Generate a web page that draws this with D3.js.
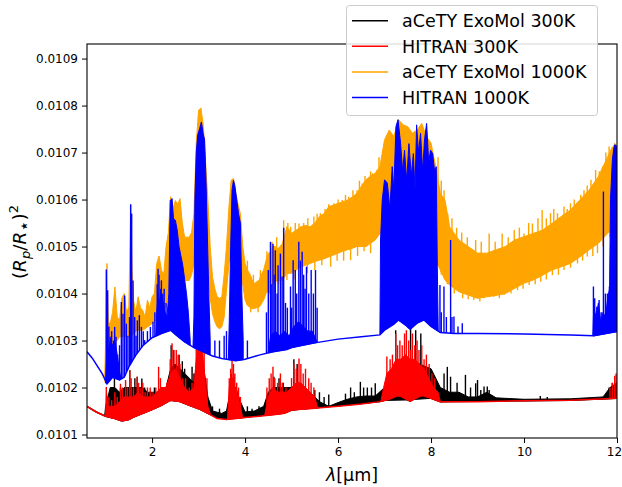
<!DOCTYPE html>
<html>
<head>
<meta charset="utf-8">
<script src="https://cdn.jsdelivr.net/npm/d3@7"></script>
<style>
  body { margin: 0; background: #fff; }
  svg { font-family: "DejaVu Sans", sans-serif; }
</style>
</head>
<body>
<svg id="chart" width="622" height="487"></svg>
<script>
// ---- data (wavelength in um, transit depth) ----
const xTicks = [2, 4, 6, 8, 10, 12];
const yTicks = [0.0101, 0.0102, 0.0103, 0.0104, 0.0105, 0.0106, 0.0107, 0.0108, 0.0109];
const legendNames = ["aCeTY ExoMol 300K", "HITRAN 300K", "aCeTY ExoMol 1000K", "HITRAN 1000K"];

// HITRAN 1000K : continuum, dense bands [lambda, top], isolated lines [lambda, top]
const blueCont = [[0.6, 0.010276], [0.71, 0.010263], [0.82, 0.010246], [0.93, 0.010229], [1.03, 0.010208],
  [1.15, 0.010222], [1.3, 0.010216], [1.4, 0.010222], [1.5, 0.010244], [1.65, 0.010269], [1.8, 0.010289],
  [2.0, 0.010306], [2.2, 0.010315], [2.4, 0.010322], [2.5, 0.010313], [2.7, 0.010297], [2.9, 0.010285],
  [3.1, 0.010276], [3.3, 0.010267], [3.5, 0.010262], [3.8, 0.010257], [4.0, 0.01026], [4.3, 0.010269],
  [4.6, 0.010276], [4.9, 0.010281], [5.0, 0.010285], [5.5, 0.010295], [6.0, 0.010303], [6.5, 0.010308],
  [6.9, 0.010312], [7.0, 0.010322], [7.2, 0.010335], [7.3, 0.010344], [7.45, 0.010333], [7.55, 0.010324],
  [7.7, 0.010337], [7.85, 0.010344], [8.0, 0.01033], [8.2, 0.010317], [8.5, 0.010315], [9.0, 0.010315],
  [10.0, 0.010314], [11.0, 0.010312], [11.5, 0.01031], [12.0, 0.010319]];
const blueBands = [
  [[1.0, 0.01021], [1.03, 0.01029], [1.07, 0.01028], [1.1, 0.0103], [1.15, 0.01029], [1.2, 0.0103],
   [1.25, 0.01027], [1.3, 0.010235], [1.33, 0.010218]],
  [[2.08, 0.010312], [2.1, 0.01036], [2.13, 0.0104], [2.16, 0.01038], [2.2, 0.0104], [2.24, 0.01038],
   [2.28, 0.01036], [2.32, 0.01035], [2.36, 0.0104], [2.39, 0.010598], [2.43, 0.010602], [2.46, 0.01056],
   [2.5, 0.010556], [2.54, 0.010535], [2.58, 0.0105], [2.62, 0.01048], [2.66, 0.01046], [2.7, 0.01043],
   [2.74, 0.0104], [2.78, 0.01036], [2.82, 0.0103]],
  [[2.88, 0.010287], [2.9, 0.01035], [2.92, 0.0106], [2.95, 0.0107], [2.98, 0.010737], [3.02, 0.01075],
   [3.06, 0.010765], [3.1, 0.01074], [3.13, 0.010727], [3.16, 0.01064], [3.19, 0.01052], [3.22, 0.0104],
   [3.25, 0.0103]],
  [[3.64, 0.01026], [3.66, 0.01034], [3.69, 0.0105], [3.72, 0.01062], [3.75, 0.010641], [3.78, 0.01063],
   [3.82, 0.0106], [3.86, 0.01057], [3.9, 0.01055], [3.93, 0.0104], [3.96, 0.0103]],
  [[4.5, 0.010277], [4.55, 0.01031], [4.65, 0.01032], [4.75, 0.01031], [4.85, 0.01032], [4.95, 0.01031],
   [5.05, 0.01033], [5.15, 0.01034], [5.25, 0.01033], [5.35, 0.01032], [5.45, 0.01032], [5.55, 0.010296]],
  [[6.9, 0.010312], [6.914, 0.010514], [6.95, 0.010599], [7.0, 0.010642], [7.06, 0.010635], [7.115, 0.01058],
   [7.165, 0.01067], [7.2, 0.01062], [7.245, 0.010755], [7.29, 0.01077], [7.345, 0.01072], [7.39, 0.01066],
   [7.43, 0.010705], [7.475, 0.01064], [7.525, 0.010719], [7.575, 0.01065], [7.62, 0.010698], [7.655, 0.01062],
   [7.69, 0.010759], [7.73, 0.0107], [7.775, 0.010741], [7.82, 0.01066], [7.86, 0.010727], [7.905, 0.010762],
   [7.95, 0.01068], [7.99, 0.010705], [8.035, 0.010698], [8.077, 0.01066], [8.113, 0.01067], [8.135, 0.010457],
   [8.155, 0.01032]],
  [[11.48, 0.01031], [11.5, 0.01037], [11.55, 0.01035], [11.6, 0.01038], [11.65, 0.01034], [11.7, 0.01036],
   [11.75, 0.01035], [11.8, 0.01039], [11.84, 0.01041], [11.86, 0.0106], [11.9, 0.010684], [11.94, 0.010716],
   [11.98, 0.010716], [12.0, 0.0107]]
];
const blueSpikes = [[1.015, 0.010451], [1.044, 0.010407], [1.07, 0.01033], [1.1, 0.010308], [1.13, 0.01032],
  [1.17, 0.0103], [1.195, 0.010329], [1.224, 0.010308], [1.26, 0.01027], [1.3, 0.01029], [1.339, 0.010382],
  [1.374, 0.010357], [1.41, 0.010396], [1.446, 0.010336], [1.48, 0.01031], [1.515, 0.01035], [1.539, 0.01059],
  [1.561, 0.01057], [1.59, 0.010428], [1.626, 0.01035], [1.655, 0.01031], [1.683, 0.010343], [1.726, 0.010354],
  [1.77, 0.010329], [1.81, 0.01032], [1.84, 0.010301], [1.9, 0.01032], [1.963, 0.010329], [2.02, 0.01034],
  [2.06, 0.01036], [2.11, 0.01042], [2.128, 0.010453], [2.15, 0.01044], [2.185, 0.01041], [2.2, 0.010428],
  [2.23, 0.0104], [2.26, 0.01041], [2.3, 0.01038], [3.35, 0.0103], [3.45, 0.0103], [3.55, 0.01031],
  [3.6, 0.01032], [4.05, 0.0103], [4.46, 0.01036], [4.5, 0.01045], [4.546, 0.01051], [4.575, 0.01042],
  [4.6, 0.010506], [4.625, 0.01044], [4.65, 0.010492], [4.69, 0.0104], [4.71, 0.01046], [4.76, 0.010485],
  [4.797, 0.010436], [4.83, 0.01054], [4.87, 0.01038], [4.91, 0.01037], [4.977, 0.010415], [5.0, 0.01037],
  [5.034, 0.010471], [5.08, 0.01045], [5.11, 0.0104], [5.156, 0.01051], [5.19, 0.01047], [5.228, 0.010489],
  [5.26, 0.01044], [5.29, 0.01041], [5.321, 0.010457], [5.37, 0.0104], [5.422, 0.01045], [5.47, 0.0104],
  [5.515, 0.01045], [5.55, 0.01037], [8.192, 0.010418], [8.22, 0.01036], [8.278, 0.010415], [8.33, 0.01035],
  [8.421, 0.010514], [8.45, 0.01035], [8.493, 0.010351], [8.58, 0.01033], [8.672, 0.010337],
  [11.493, 0.010415], [11.52, 0.01039], [11.565, 0.010372], [11.615, 0.010386], [11.66, 0.01036],
  [11.708, 0.010617], [11.75, 0.0104], [11.794, 0.0104], [11.837, 0.010415]];

// aCeTY ExoMol 1000K : [lambda, lower envelope, upper envelope]
const orangeEnv = [[0.98, 0.010215, 0.010215], [1.0, 0.010208, 0.0103], [1.03, 0.01023, 0.010464],
  [1.06, 0.01026, 0.01034], [1.1, 0.010286, 0.010336], [1.15, 0.01029, 0.01036], [1.2, 0.0103, 0.010414],
  [1.25, 0.0103, 0.01035], [1.3, 0.010308, 0.010343], [1.35, 0.010308, 0.01039], [1.4, 0.010308, 0.0104],
  [1.45, 0.010308, 0.01036], [1.5, 0.010308, 0.010371], [1.54, 0.01031, 0.010588], [1.57, 0.01031, 0.01045],
  [1.6, 0.010315, 0.010386], [1.65, 0.01032, 0.01036], [1.7, 0.010322, 0.010393], [1.75, 0.010322, 0.01037],
  [1.8, 0.010322, 0.010364], [1.85, 0.010325, 0.01035], [1.9, 0.010329, 0.010386], [1.95, 0.010332, 0.01037],
  [2.0, 0.010336, 0.010393], [2.05, 0.01034, 0.0104], [2.1, 0.010343, 0.010464], [2.15, 0.01035, 0.01048],
  [2.2, 0.010357, 0.01045], [2.25, 0.010365, 0.01044], [2.3, 0.010371, 0.010499], [2.35, 0.0104, 0.01053],
  [2.4, 0.010428, 0.010606], [2.45, 0.01045, 0.01058], [2.5, 0.010464, 0.010598], [2.55, 0.01045, 0.01059],
  [2.6, 0.010442, 0.010602], [2.65, 0.010435, 0.01055], [2.7, 0.010428, 0.01052], [2.75, 0.010428, 0.01052],
  [2.8, 0.010428, 0.01052], [2.85, 0.01044, 0.01053], [2.9, 0.010464, 0.01057], [2.95, 0.01055, 0.01072],
  [3.0, 0.0106, 0.01079], [3.05, 0.01062, 0.010795], [3.1, 0.0106, 0.010759], [3.15, 0.01052, 0.01068],
  [3.2, 0.01045, 0.010599], [3.25, 0.01039, 0.0105], [3.3, 0.010357, 0.010435], [3.35, 0.01034, 0.01041],
  [3.4, 0.010329, 0.010393], [3.45, 0.010325, 0.01039], [3.5, 0.010329, 0.010393], [3.55, 0.01035, 0.01044],
  [3.6, 0.010407, 0.0105], [3.65, 0.01046, 0.01058], [3.7, 0.0105, 0.010641], [3.75, 0.01052, 0.010645],
  [3.8, 0.010535, 0.010613], [3.85, 0.0105, 0.01059], [3.9, 0.010464, 0.01057], [3.95, 0.01042, 0.0105],
  [4.0, 0.010386, 0.010464], [4.05, 0.010375, 0.01045], [4.1, 0.010371, 0.010442], [4.15, 0.010368, 0.01043],
  [4.2, 0.010368, 0.010421], [4.25, 0.01037, 0.010425], [4.3, 0.010371, 0.010428], [4.35, 0.010378, 0.01044],
  [4.4, 0.010386, 0.01045], [4.45, 0.0104, 0.01047], [4.5, 0.010407, 0.010485], [4.55, 0.010414, 0.01049],
  [4.6, 0.010421, 0.0105], [4.65, 0.010425, 0.0105], [4.7, 0.010428, 0.010495], [4.75, 0.010428, 0.0105],
  [4.8, 0.010428, 0.010506], [4.9, 0.010443, 0.010542], [5.0, 0.010443, 0.010528], [5.1, 0.01045, 0.010535],
  [5.2, 0.010457, 0.010542], [5.3, 0.01046, 0.010545], [5.4, 0.010464, 0.010542], [5.5, 0.010468, 0.01055],
  [5.6, 0.010471, 0.010564], [5.7, 0.010474, 0.01057], [5.8, 0.010478, 0.010585], [5.9, 0.010482, 0.010588],
  [6.0, 0.010486, 0.010592], [6.1, 0.01049, 0.010595], [6.2, 0.010493, 0.010599], [6.3, 0.010496, 0.010605],
  [6.4, 0.0105, 0.010613], [6.5, 0.0105, 0.010628], [6.6, 0.0105, 0.010642], [6.7, 0.010507, 0.01065],
  [6.8, 0.010514, 0.010656], [6.9, 0.010528, 0.01067], [7.0, 0.01054, 0.010727], [7.1, 0.01056, 0.010748],
  [7.2, 0.01056, 0.010734], [7.3, 0.01056, 0.01077], [7.4, 0.01056, 0.010759], [7.5, 0.01056, 0.010755],
  [7.6, 0.01056, 0.010741], [7.7, 0.01056, 0.010748], [7.8, 0.01055, 0.010762], [7.9, 0.01054, 0.010734],
  [8.0, 0.0105, 0.01072], [8.1, 0.010471, 0.01067], [8.2, 0.01045, 0.010613], [8.3, 0.010429, 0.010599],
  [8.4, 0.010418, 0.010542], [8.5, 0.010411, 0.010528], [8.6, 0.010404, 0.010514], [8.7, 0.0104, 0.010507],
  [8.8, 0.010397, 0.0105], [8.9, 0.010393, 0.010493], [9.0, 0.01039, 0.010486], [9.2, 0.010393, 0.010486],
  [9.4, 0.010396, 0.010493], [9.6, 0.0104, 0.0105], [9.8, 0.010411, 0.010514], [10.0, 0.010422, 0.010521],
  [10.2, 0.010429, 0.010528], [10.4, 0.010439, 0.010535], [10.6, 0.01045, 0.010549], [10.8, 0.010457, 0.010564],
  [11.0, 0.010464, 0.010578], [11.2, 0.010478, 0.010599], [11.4, 0.010493, 0.01062], [11.6, 0.010507, 0.010649],
  [11.8, 0.010528, 0.010691], [11.9, 0.01054, 0.010712], [12.0, 0.010528, 0.010705]];
// thin lines sticking out above the upper envelope
const orangeSpikes = [[4.05, 0.01047], [4.18, 0.01044], [4.33, 0.01045], [4.47, 0.01049], [4.58, 0.01051],
  [4.68, 0.01052], [4.83, 0.010556], [4.92, 0.01055], [4.98, 0.010542], [5.08, 0.01055], [5.16, 0.010549],
  [5.26, 0.01055], [5.35, 0.01056], [5.48, 0.010564], [5.55, 0.01057], [5.62, 0.010571], [5.72, 0.01058],
  [5.8, 0.01059], [5.91, 0.010592], [6.0, 0.0106], [6.09, 0.010599], [6.16, 0.01061], [6.23, 0.010606],
  [6.32, 0.01062], [6.41, 0.01062], [6.46, 0.01064], [6.52, 0.010634], [6.58, 0.01065], [6.63, 0.010642],
  [6.7, 0.01066], [6.74, 0.010656], [6.84, 0.010663], [6.88, 0.01069], [8.15, 0.01069], [8.22, 0.01064],
  [8.28, 0.01062], [8.36, 0.01057], [8.45, 0.01056], [8.55, 0.01054], [8.66, 0.01053], [8.78, 0.01052],
  [8.96, 0.010514], [9.08, 0.01051], [9.25, 0.010528], [9.38, 0.01051], [9.53, 0.010528], [9.66, 0.01052],
  [9.79, 0.010535], [9.9, 0.01054], [10.0, 0.010528], [10.1, 0.01055], [10.18, 0.010549], [10.3, 0.01056],
  [10.39, 0.010578], [10.48, 0.01056], [10.57, 0.010571], [10.64, 0.01058], [10.72, 0.010571],
  [10.86, 0.010585], [10.93, 0.01058], [11.0, 0.010592], [11.08, 0.0106], [11.15, 0.010585], [11.22, 0.01061],
  [11.29, 0.01062], [11.36, 0.01063], [11.44, 0.010642], [11.54, 0.010663], [11.62, 0.01066],
  [11.69, 0.01067], [11.76, 0.0107], [11.83, 0.010713], [11.95, 0.01072]];
// thin lines hanging below the lower envelope
const orangeDips = [[4.12, 0.01036], [4.28, 0.01036], [4.52, 0.0104], [4.72, 0.01042], [4.9, 0.010429],
  [5.05, 0.01043], [5.2, 0.01044], [5.34, 0.010443], [5.5, 0.01045], [5.65, 0.01046], [5.84, 0.010457],
  [5.98, 0.01047], [6.12, 0.01047], [6.27, 0.010471], [6.42, 0.01048], [6.56, 0.01049], [6.7, 0.010486],
  [8.22, 0.01044], [8.35, 0.01042], [8.5, 0.0104], [8.68, 0.01039], [8.8, 0.010388], [8.92, 0.010386],
  [9.05, 0.010383], [9.14, 0.01039], [9.35, 0.010393], [9.47, 0.01039], [9.57, 0.010397], [9.72, 0.0104],
  [9.86, 0.010407], [9.98, 0.01041], [10.11, 0.010418], [10.24, 0.01042], [10.36, 0.010425],
  [10.48, 0.01043], [10.61, 0.010439], [10.74, 0.01044], [10.86, 0.01045], [11.0, 0.010455],
  [11.15, 0.010464], [11.26, 0.01047], [11.36, 0.010479], [11.48, 0.01048], [11.58, 0.010486],
  [11.7, 0.0105], [11.85, 0.01052]];

// HITRAN 300K
const redCont = [[0.6, 0.01016], [0.8, 0.010148], [1.0, 0.010139], [1.2, 0.010134], [1.35, 0.010129],
  [1.5, 0.010132], [1.6, 0.010137], [1.8, 0.010145], [2.0, 0.010153], [2.2, 0.010162], [2.4, 0.010173],
  [2.6, 0.01017], [2.8, 0.010162], [3.0, 0.010155], [3.2, 0.010145], [3.4, 0.010134], [3.6, 0.010132],
  [3.8, 0.010134], [4.0, 0.010136], [4.3, 0.010139], [4.6, 0.010142], [4.85, 0.010145], [5.0, 0.010152],
  [5.5, 0.010156], [6.0, 0.01016], [6.5, 0.010165], [6.9, 0.01017], [7.1, 0.010175], [7.3, 0.010184],
  [7.55, 0.010171], [7.8, 0.010184], [8.0, 0.010177], [8.2, 0.01017], [9.0, 0.01017], [10.0, 0.010172],
  [11.0, 0.010173], [12.0, 0.010177]];
const redBands = [
  [[1.0, 0.010139], [1.02, 0.01019], [1.05, 0.01016], [1.1, 0.01016], [1.2, 0.01016], [1.3, 0.01017],
   [1.4, 0.01018], [1.5, 0.01018], [1.6, 0.01018], [1.7, 0.01019], [1.8, 0.01018], [1.9, 0.01018],
   [2.0, 0.01018], [2.1, 0.01019], [2.2, 0.0102], [2.3, 0.0102], [2.4, 0.01023], [2.5, 0.01024],
   [2.6, 0.01022], [2.7, 0.0102], [2.8, 0.01019], [2.9, 0.0102], [2.95, 0.01026], [3.0, 0.0103],
   [3.05, 0.0103], [3.1, 0.01026], [3.15, 0.0102], [3.2, 0.01016], [3.25, 0.010145]],
  [[3.62, 0.010132], [3.66, 0.0102], [3.7, 0.01022], [3.74, 0.01022], [3.78, 0.0102], [3.84, 0.01018],
   [3.9, 0.01016], [3.95, 0.010135]],
  [[4.42, 0.01014], [4.5, 0.01018], [4.6, 0.0102], [4.7, 0.01019], [4.8, 0.01019], [4.9, 0.01019],
   [5.0, 0.0102], [5.1, 0.01021], [5.2, 0.01021], [5.3, 0.0102], [5.4, 0.01019], [5.5, 0.01018],
   [5.56, 0.010156]],
  [[6.92, 0.01017], [6.98, 0.0102], [7.05, 0.01023], [7.15, 0.01024], [7.25, 0.01026], [7.35, 0.01026],
   [7.45, 0.01027], [7.55, 0.01026], [7.65, 0.01026], [7.75, 0.01025], [7.85, 0.01024], [7.95, 0.01022],
   [8.05, 0.0102], [8.15, 0.01019], [8.2, 0.01017]]
];
const redSpikes = [[1.015, 0.010201], [1.07, 0.01018], [1.13, 0.010173], [1.2, 0.01019], [1.25, 0.01018],
  [1.32, 0.010208], [1.36, 0.0102], [1.43, 0.010216], [1.47, 0.0102], [1.52, 0.010237], [1.55, 0.01022],
  [1.6, 0.0102], [1.68, 0.010223], [1.71, 0.01021], [1.76, 0.0102], [1.8, 0.01021], [1.85, 0.01019],
  [1.9, 0.0102], [1.96, 0.0102], [2.02, 0.01019], [2.08, 0.0102], [2.14, 0.010244], [2.18, 0.01022],
  [2.27, 0.0102], [2.32, 0.01021], [2.39, 0.01026], [2.43, 0.010294], [2.47, 0.01028], [2.52, 0.01028],
  [2.56, 0.01027], [2.6, 0.01025], [2.66, 0.01022], [2.72, 0.01022], [2.8, 0.0102], [2.86, 0.01021],
  [2.95, 0.0103], [3.0, 0.01032], [3.04, 0.010336], [3.08, 0.01031], [3.12, 0.01028], [3.18, 0.01022],
  [3.66, 0.01022], [3.69, 0.01024], [3.72, 0.010261], [3.75, 0.01025], [3.78, 0.01023], [3.82, 0.01021],
  [3.86, 0.0102], [3.9, 0.01018], [4.47, 0.0102], [4.52, 0.01022], [4.56, 0.01023], [4.6, 0.010244],
  [4.64, 0.01022], [4.7, 0.01021], [4.76, 0.01023], [4.8, 0.01021], [4.88, 0.0102], [5.0, 0.01022],
  [5.05, 0.010251], [5.1, 0.01024], [5.16, 0.010262], [5.2, 0.01025], [5.25, 0.01023], [5.3, 0.01024],
  [5.37, 0.01022], [5.42, 0.01021], [5.48, 0.0102], [7.05, 0.010266], [7.12, 0.01026], [7.17, 0.01027],
  [7.24, 0.010315], [7.28, 0.01029], [7.33, 0.0103], [7.38, 0.01029], [7.43, 0.010315], [7.47, 0.010322],
  [7.52, 0.0103], [7.56, 0.01028], [7.6, 0.010315], [7.65, 0.01029], [7.7, 0.0103], [7.74, 0.01028],
  [7.8, 0.01029], [7.85, 0.01026], [7.9, 0.01027], [7.96, 0.01025], [8.02, 0.01023], [8.08, 0.01022],
  [11.85, 0.0102], [11.9, 0.01021], [11.95, 0.010225], [11.98, 0.01023]];

// aCeTY ExoMol 300K
const blackCont = [[0.6, 0.01016], [0.8, 0.010148], [1.0, 0.010139], [1.2, 0.010134], [1.35, 0.010129],
  [1.5, 0.010132], [1.6, 0.010137], [1.8, 0.010145], [2.0, 0.010153], [2.2, 0.010162], [2.4, 0.010173],
  [2.6, 0.01017], [2.8, 0.010162], [3.0, 0.010155], [3.2, 0.010145], [3.4, 0.010136], [3.6, 0.010134],
  [3.8, 0.010135], [4.0, 0.010137], [4.3, 0.01014], [4.6, 0.010143], [4.85, 0.010146], [5.0, 0.010152],
  [5.5, 0.010157], [6.0, 0.010161], [6.5, 0.010166], [6.9, 0.01017], [7.1, 0.010175], [7.3, 0.010184],
  [7.55, 0.010171], [7.8, 0.010184], [8.0, 0.010177], [8.2, 0.01017], [9.0, 0.010171], [10.0, 0.010172],
  [11.0, 0.010173], [12.0, 0.010177]];
const blackBand = [[0.98, 0.01014], [1.0, 0.01016], [1.1, 0.0102], [1.2, 0.0102], [1.3, 0.01019], [1.4, 0.0102],
  [1.5, 0.0102], [1.6, 0.0102], [1.7, 0.0102], [1.8, 0.0102], [1.9, 0.01019], [2.0, 0.01019], [2.1, 0.01019],
  [2.2, 0.0102], [2.3, 0.0102], [2.4, 0.01024], [2.5, 0.01025], [2.6, 0.01024], [2.7, 0.01023], [2.8, 0.01022],
  [2.9, 0.01021], [3.0, 0.01028], [3.1, 0.01025], [3.2, 0.01018], [3.3, 0.01015], [3.5, 0.010145],
  [3.6, 0.01015], [3.7, 0.0102], [3.8, 0.0102], [3.9, 0.01017], [4.0, 0.010148], [4.2, 0.01015],
  [4.4, 0.01016], [4.5, 0.01019], [4.6, 0.0102], [4.8, 0.0102], [5.0, 0.0102], [5.2, 0.0102], [5.4, 0.01019],
  [5.6, 0.01017], [5.8, 0.01016], [6.0, 0.010168], [6.2, 0.010175], [6.4, 0.01018], [6.6, 0.010182],
  [6.8, 0.010182], [7.0, 0.0102], [7.5, 0.01026], [8.0, 0.01024], [8.2, 0.0102], [8.4, 0.01019],
  [8.6, 0.01019], [8.8, 0.01018], [9.0, 0.01018], [9.2, 0.01019], [9.4, 0.010178], [10.0, 0.010175],
  [11.0, 0.010176], [11.7, 0.01018], [11.85, 0.0102], [12.0, 0.01021]];
const blackSpikes = [[1.19, 0.010223], [1.32, 0.0102], [1.52, 0.010237], [1.63, 0.01022], [1.68, 0.010223],
  [1.78, 0.010219], [1.84, 0.0102], [2.05, 0.0102], [2.41, 0.01029], [2.46, 0.01028], [2.58, 0.01027],
  [2.65, 0.010256], [2.7, 0.01024], [2.86, 0.010244], [2.9, 0.01023], [3.3, 0.01016], [3.45, 0.010155],
  [3.7, 0.01023], [3.76, 0.010223], [4.05, 0.01016], [4.15, 0.010155], [4.3, 0.01016], [4.62, 0.010223],
  [4.73, 0.01022], [4.82, 0.01021], [5.05, 0.01026], [5.12, 0.01025], [5.5, 0.010195], [5.6, 0.01019],
  [5.7, 0.01018], [5.8, 0.010185], [6.16, 0.010187], [6.27, 0.0102], [6.35, 0.01019], [6.48, 0.010212],
  [6.55, 0.0102], [6.63, 0.0102], [6.72, 0.0102], [6.8, 0.010209], [7.24, 0.010322], [7.56, 0.010329],
  [7.67, 0.010322], [7.78, 0.010315], [8.28, 0.01023], [8.35, 0.010244], [8.42, 0.010223], [8.56, 0.01021],
  [8.74, 0.010227], [8.85, 0.0102], [8.96, 0.010209], [9.0, 0.010216], [9.07, 0.010195], [9.14, 0.010202],
  [9.21, 0.010202], [9.25, 0.010195], [10.35, 0.010182], [10.5, 0.01018], [11.83, 0.0102], [11.9, 0.01021]];

// ---- layout ----
const W = 622, H = 487;
const margin = { top: 44, right: 5, bottom: 49, left: 87 };
const svg = d3.select("#chart");

const x = d3.scaleLinear().domain([0.6, 12]).range([margin.left, W - margin.right]);
const y = d3.scaleLinear().domain([0.0100926, 0.010931]).range([H - margin.bottom, margin.top]);

svg.append("defs").append("clipPath").attr("id", "plot-clip")
  .append("rect")
  .attr("x", margin.left).attr("y", margin.top)
  .attr("width", W - margin.left - margin.right)
  .attr("height", H - margin.top - margin.bottom);

const plot = svg.append("g").attr("clip-path", "url(#plot-clip)");

const line = d3.line().x(d => x(d[0])).y(d => y(d[1]));

// polylinear scale through the given points, used as the foot of bands / lines
function footOf(pts, k) {
  return d3.scaleLinear().domain(pts.map(d => d[0])).range(pts.map(d => d[k])).clamp(true);
}

function strokes(g, data, foot, color) {
  g.selectAll(null)
    .data(data)
    .join("line")
    .attr("x1", d => x(d[0])).attr("x2", d => x(d[0]))
    .attr("y1", d => y(foot(d[0]))).attr("y2", d => y(d[1]))
    .attr("stroke", color)
    .attr("stroke-width", 1.4);
}

function drawSeries(color, cont, bands, spikes) {
  const g = plot.append("g");
  const base = footOf(cont, 1);
  const area = d3.area()
    .x(d => x(d[0]))
    .y0(d => y(base(d[0])))
    .y1(d => y(d[1]));

  bands.forEach(seg => {
    g.append("path")
      .attr("d", area(seg))
      .attr("fill", color)
      .attr("stroke", color)
      .attr("stroke-width", 1)
      .attr("stroke-linejoin", "round");
  });

  strokes(g, spikes, base, color);

  g.append("path")
    .attr("d", line(cont))
    .attr("fill", "none")
    .attr("stroke", color)
    .attr("stroke-width", 1.5);
}

// drawing order as in the figure
drawSeries("#000000", blackCont, [blackBand], blackSpikes);
drawSeries("#ff0000", redCont, redBands, redSpikes);

// orange: its own lower / upper envelope
const og = plot.append("g");
og.append("path")
  .attr("d", d3.area().x(d => x(d[0])).y0(d => y(d[1])).y1(d => y(d[2]))(orangeEnv))
  .attr("fill", "#ffa500")
  .attr("stroke", "#ffa500")
  .attr("stroke-width", 1)
  .attr("stroke-linejoin", "round");
strokes(og, orangeSpikes, footOf(orangeEnv, 1), "#ffa500");
strokes(og, orangeDips, footOf(orangeEnv, 2), "#ffa500");

drawSeries("#0000ff", blueCont, blueBands, blueSpikes);

// ---- axes ----
const xAxis = svg.append("g")
  .attr("transform", `translate(0,${H - margin.bottom})`)
  .call(d3.axisBottom(x).tickValues(xTicks).tickSize(5).tickSizeOuter(0).tickPadding(4));
const yAxis = svg.append("g")
  .attr("transform", `translate(${margin.left},0)`)
  .call(d3.axisLeft(y).tickValues(yTicks).tickFormat(d3.format(".4f")).tickSize(5).tickSizeOuter(0).tickPadding(4));

[xAxis, yAxis].forEach(a => {
  a.select(".domain").remove();
  a.selectAll("text").attr("font-size", 12).attr("fill", "#000").attr("font-family", "DejaVu Sans");
  a.selectAll("line").attr("stroke", "#000");
});
// last x label sits right at the figure edge; nudge it in so it stays whole
xAxis.selectAll(".tick text").filter(d => d === 12).attr("dx", -3);

// frame
svg.append("rect")
  .attr("x", margin.left).attr("y", margin.top)
  .attr("width", W - margin.left - margin.right)
  .attr("height", H - margin.top - margin.bottom)
  .attr("fill", "none")
  .attr("stroke", "#000")
  .attr("stroke-width", 1.1);

// axis labels
const xl = svg.append("text")
  .attr("x", (margin.left + W - margin.right) / 2)
  .attr("y", 481)
  .attr("text-anchor", "middle")
  .attr("font-size", 17.5);
xl.append("tspan").attr("font-style", "italic").text("λ");
xl.append("tspan").text("[μm]");

const yl = svg.append("text")
  .attr("transform", "translate(26,242) rotate(-90)")
  .attr("text-anchor", "middle")
  .attr("font-size", 18.5);
yl.append("tspan").text("(");
yl.append("tspan").attr("font-style", "italic").text("R");
yl.append("tspan").attr("font-style", "italic").attr("font-size", 13).attr("dy", 4).text("p");
yl.append("tspan").attr("dy", -4).text("/");
yl.append("tspan").attr("font-style", "italic").text("R");
yl.append("tspan").attr("font-size", 18).attr("dy", 4).text("⋆");
yl.append("tspan").attr("dy", -4).text(")");
yl.append("tspan").attr("font-size", 13).attr("dy", -8).text("2");

// ---- legend ----
const legendColors = ["#000000", "#ff0000", "#ffa500", "#0000ff"];
const lg = svg.append("g");
lg.append("rect")
  .attr("x", 346.5).attr("y", 5.5)
  .attr("width", 251).attr("height", 110)
  .attr("rx", 3)
  .attr("fill", "#fff").attr("fill-opacity", 0.85)
  .attr("stroke", "#cccccc").attr("stroke-width", 1);
const item = lg.selectAll("g.item")
  .data(legendNames)
  .join("g")
  .attr("class", "item")
  .attr("transform", (d, i) => `translate(0,${20.7 + i * 25.6})`);
item.append("line")
  .attr("x1", 352).attr("x2", 388)
  .attr("stroke", (d, i) => legendColors[i])
  .attr("stroke-width", 1.5);
item.append("text")
  .attr("x", 402)
  .attr("dy", "0.36em")
  .attr("font-size", 17.5)
  .text(d => d);
</script>
</body>
</html>
